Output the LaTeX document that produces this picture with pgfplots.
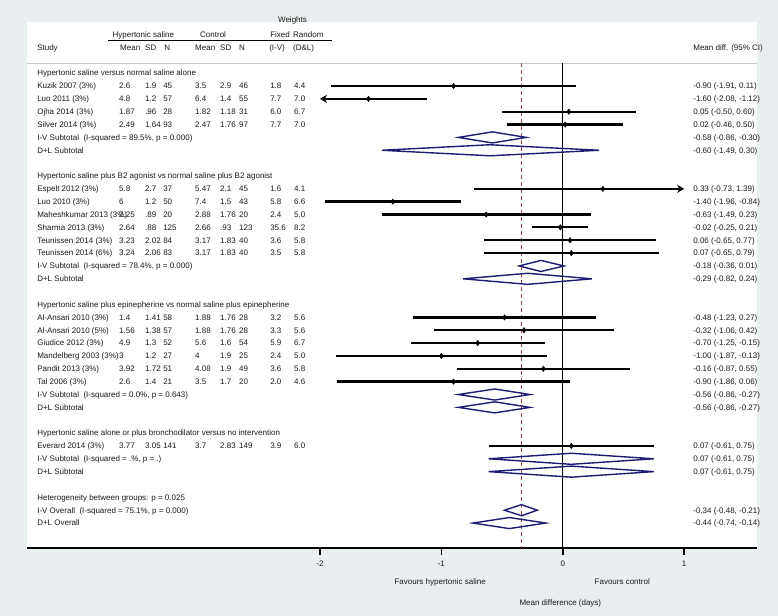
\documentclass[border=0pt]{standalone}
\usepackage{pgfplots}
\pgfplotsset{compat=1.18}
\usepackage{fontspec}
\setmainfont{Liberation Sans}
\usetikzlibrary{arrows.meta}
\definecolor{bgc}{HTML}{E9EFF1}
\definecolor{navyd}{HTML}{1C1C73}
\definecolor{redd}{HTML}{A5434B}
\definecolor{sepc}{HTML}{C8C8C8}
\definecolor{txt}{HTML}{1A1A1A}
\tikzset{tx/.style={anchor=west,inner sep=0pt,text height=5.7bp,text depth=0bp,text=txt}}
% label row: i, study label, CI text
\newcommand{\Lab}[3]{\node[tx] at (axis cs:-4.330,-#1) {#2};\node[tx] at (axis cs:1.074,-#1) {#3};}
% values row: i, 8 values
\newcommand{\Val}[9]{%
\node[tx] at (axis cs:-3.655,-#1) {#2};\node[tx] at (axis cs:-3.441,-#1) {#3};\node[tx] at (axis cs:-3.292,-#1) {#4};%
\node[tx] at (axis cs:-3.029,-#1) {#5};\node[tx] at (axis cs:-2.823,-#1) {#6};\node[tx] at (axis cs:-2.667,-#1) {#7};%
\node[tx] at (axis cs:-2.411,-#1) {#8};\node[tx] at (axis cs:-2.214,-#1) {#9};}
% CI line: i, est, lo, hi, width
\newcommand{\CI}[5]{\addplot[black,line width=#5,mark=none] coordinates {(#3,-#1) (#4,-#1)};
\addplot[black,only marks,mark=diamond*,mark size=2.7bp] coordinates {(#2,-#1)};}
% diamond: i, est, lo, hi
\newcommand{\Dia}[4]{\addplot[navyd,line width=1.4bp,mark=none,line join=miter] coordinates {(#3,-#1) (#2,-#1+0.43) (#4,-#1) (#2,-#1-0.43)} -- cycle;}
\begin{document}
\fontsize{8bp}{9.6bp}\selectfont
\begin{tikzpicture}[x=1bp,y=1bp]
\fill[bgc] (0,0) rectangle (778,616);
\begin{axis}[at={(27bp,68bp)}, anchor=south west, scale only axis,
  width=730bp, height=526bp,
  xmin=-4.413, xmax=1.600, ymin=-36.94, ymax=3.98, clip=false,
  axis background/.style={fill=white},
  axis x line*=bottom, axis y line=none,
  x axis line style={line width=1.5bp,black},
  xtick={-2,-1,0,1}, xticklabels={-2,-1,0,1},
  tick align=outside, major tick length=7bp,
  tick style={line width=1.5bp,black},
  xticklabel style={text=txt,yshift=-3bp},
  ytick=\empty]
% reference lines
\addplot[sepc,line width=1.3bp] coordinates {(-4.413,0.76) (1.600,0.76)};
\addplot[black,line width=1bp] coordinates {(-3.742,2.52) (-1.900,2.52)};
\addplot[black,line width=1.3bp] coordinates {(0,0.76) (0,-36.94)};
\addplot[redd,line width=1.2bp,dash pattern=on 4bp off 3bp] coordinates {(-0.34,0.76) (-0.34,-36.94)};
% headers
\node[anchor=center,inner sep=0pt,text=txt] at (axis cs:-2.226,4.08) {Weights};
\node[tx] at (axis cs:-3.709,3.02) {Hypertonic saline};
\node[tx] at (axis cs:-2.988,3.02) {Control};
\node[tx] at (axis cs:-2.411,3.02) {Fixed};
\node[tx] at (axis cs:-2.222,3.02) {Random};
\node[tx] at (axis cs:-4.330,1.98) {Study};
\node[tx] at (axis cs:-3.647,1.98) {Mean};
\node[tx] at (axis cs:-3.441,1.98) {SD};
\node[tx] at (axis cs:-3.284,1.98) {N};
\node[tx] at (axis cs:-3.029,1.98) {Mean};
\node[tx] at (axis cs:-2.823,1.98) {SD};
\node[tx] at (axis cs:-2.667,1.98) {N};
\node[tx] at (axis cs:-2.419,1.98) {(I-V)};
\node[tx] at (axis cs:-2.222,1.98) {(D\&L)};
\node[tx] at (axis cs:1.074,1.98) {Mean diff. (95\% CI)};
% group 1
\node[tx] at (axis cs:-4.330,0) {Hypertonic saline versus normal saline alone};
\Lab{1}{Kuzik 2007 (3\%)}{-0.90 (-1.91, 0.11)}
\Val{1}{2.6}{1.9}{45}{3.5}{2.9}{46}{1.8}{4.4}
\Lab{2}{Luo 2011 (3\%)}{-1.60 (-2.08, -1.12)}
\Val{2}{4.8}{1.2}{57}{6.4}{1.4}{55}{7.7}{7.0}
\Lab{3}{Ojha 2014 (3\%)}{0.05 (-0.50, 0.60)}
\Val{3}{1.87}{.96}{28}{1.82}{1.18}{31}{6.0}{6.7}
\Lab{4}{Silver 2014 (3\%)}{0.02 (-0.46, 0.50)}
\Val{4}{2.49}{1.64}{93}{2.47}{1.76}{97}{7.7}{7.0}
\Lab{5}{I-V Subtotal\ \ (I-squared = 89.5\%, p = 0.000)}{-0.58 (-0.86, -0.30)}
\Lab{6}{D+L Subtotal}{-0.60 (-1.49, 0.30)}
\CI{1}{-0.90}{-1.91}{0.11}{2.4bp}
\addplot[black,line width=2.4bp,mark=none,-{Stealth[length=7bp,width=8bp]}] coordinates {(-1.12,-2) (-2.0,-2)};
\addplot[black,only marks,mark=diamond*,mark size=2.7bp] coordinates {(-1.60,-2)};
\CI{3}{0.05}{-0.50}{0.60}{2.4bp}
\CI{4}{0.02}{-0.46}{0.50}{2.4bp}
\Dia{5}{-0.58}{-0.86}{-0.30}
\Dia{6}{-0.60}{-1.49}{0.30}
% group 2
\node[tx] at (axis cs:-4.330,-8) {Hypertonic saline plus B2 agonist vs normal saline plus B2 agonist};
\Lab{9}{Espelt 2012 (3\%)}{0.33 (-0.73, 1.39)}
\Val{9}{5.8}{2.7}{37}{5.47}{2.1}{45}{1.6}{4.1}
\Lab{10}{Luo 2010 (3\%)}{-1.40 (-1.96, -0.84)}
\Val{10}{6}{1.2}{50}{7.4}{1.5}{43}{5.8}{6.6}
\Lab{11}{Maheshkumar 2013 (3\%)}{-0.63 (-1.49, 0.23)}
\Val{11}{2.25}{.89}{20}{2.88}{1.76}{20}{2.4}{5.0}
\Lab{12}{Sharma 2013 (3\%)}{-0.02 (-0.25, 0.21)}
\Val{12}{2.64}{.88}{125}{2.66}{.93}{123}{35.6}{8.2}
\Lab{13}{Teunissen 2014 (3\%)}{0.06 (-0.65, 0.77)}
\Val{13}{3.23}{2.02}{84}{3.17}{1.83}{40}{3.6}{5.8}
\Lab{14}{Teunissen 2014 (6\%)}{0.07 (-0.65, 0.79)}
\Val{14}{3.24}{2.06}{83}{3.17}{1.83}{40}{3.5}{5.8}
\Lab{15}{I-V Subtotal\ \ (I-squared = 78.4\%, p = 0.000)}{-0.18 (-0.36, 0.01)}
\Lab{16}{D+L Subtotal}{-0.29 (-0.82, 0.24)}
\addplot[black,line width=2.4bp,mark=none,-{Stealth[length=7bp,width=8bp]}] coordinates {(-0.73,-9) (1.0,-9)};
\addplot[black,only marks,mark=diamond*,mark size=2.7bp] coordinates {(0.33,-9)};
\CI{10}{-1.40}{-1.96}{-0.84}{2.4bp}
\CI{11}{-0.63}{-1.49}{0.23}{2.1bp}
\CI{12}{-0.02}{-0.25}{0.21}{2bp}
\CI{13}{0.06}{-0.65}{0.77}{1.6bp}
\CI{14}{0.07}{-0.65}{0.79}{1.6bp}
\Dia{15}{-0.18}{-0.36}{0.01}
\Dia{16}{-0.29}{-0.82}{0.24}
% group 3
\node[tx] at (axis cs:-4.330,-18) {Hypertonic saline plus epinepherine vs normal saline plus epinepherine};
\Lab{19}{Al-Ansari 2010 (3\%)}{-0.48 (-1.23, 0.27)}
\Val{19}{1.4}{1.41}{58}{1.88}{1.76}{28}{3.2}{5.6}
\Lab{20}{Al-Ansari 2010 (5\%)}{-0.32 (-1.06, 0.42)}
\Val{20}{1.56}{1.38}{57}{1.88}{1.76}{28}{3.3}{5.6}
\Lab{21}{Giudice 2012 (3\%)}{-0.70 (-1.25, -0.15)}
\Val{21}{4.9}{1.3}{52}{5.6}{1.6}{54}{5.9}{6.7}
\Lab{22}{Mandelberg 2003 (3\%)}{-1.00 (-1.87, -0.13)}
\Val{22}{3}{1.2}{27}{4}{1.9}{25}{2.4}{5.0}
\Lab{23}{Pandit 2013 (3\%)}{-0.16 (-0.87, 0.55)}
\Val{23}{3.92}{1.72}{51}{4.08}{1.9}{49}{3.6}{5.8}
\Lab{24}{Tal 2006 (3\%)}{-0.90 (-1.86, 0.06)}
\Val{24}{2.6}{1.4}{21}{3.5}{1.7}{20}{2.0}{4.6}
\Lab{25}{I-V Subtotal\ \ (I-squared = 0.0\%, p = 0.643)}{-0.56 (-0.86, -0.27)}
\Lab{26}{D+L Subtotal}{-0.56 (-0.86, -0.27)}
\CI{19}{-0.48}{-1.23}{0.27}{2.4bp}
\CI{20}{-0.32}{-1.06}{0.42}{2.4bp}
\CI{21}{-0.70}{-1.25}{-0.15}{2.4bp}
\CI{22}{-1.00}{-1.87}{-0.13}{2.4bp}
\CI{23}{-0.16}{-0.87}{0.55}{2.4bp}
\CI{24}{-0.90}{-1.86}{0.06}{2.4bp}
\Dia{25}{-0.56}{-0.86}{-0.27}
\Dia{26}{-0.56}{-0.86}{-0.27}
% group 4
\node[tx] at (axis cs:-4.330,-28) {Hypertonic saline alone or plus bronchodilator versus no intervention};
\Lab{29}{Everard 2014 (3\%)}{0.07 (-0.61, 0.75)}
\Val{29}{3.77}{3.05}{141}{3.7}{2.83}{149}{3.9}{6.0}
\Lab{30}{I-V Subtotal\ \ (I-squared = .\%, p = .)}{0.07 (-0.61, 0.75)}
\Lab{31}{D+L Subtotal}{0.07 (-0.61, 0.75)}
\CI{29}{0.07}{-0.61}{0.75}{2.4bp}
\Dia{30}{0.07}{-0.61}{0.75}
\Dia{31}{0.07}{-0.61}{0.75}
% overall
\node[tx] at (axis cs:-4.330,-33) {Heterogeneity between groups: p = 0.025};
\Lab{34}{I-V Overall\ \ (I-squared = 75.1\%, p = 0.000)}{-0.34 (-0.48, -0.21)}
\Lab{35}{D+L Overall}{-0.44 (-0.74, -0.14)}
\Dia{34}{-0.34}{-0.48}{-0.21}
\Dia{35}{-0.44}{-0.74}{-0.14}
% bottom labels
\node[anchor=center,inner sep=0pt,text=txt] at (axis cs:-1.01,-39.59) {Favours hypertonic saline};
\node[anchor=center,inner sep=0pt,text=txt] at (axis cs:0.49,-39.59) {Favours control};
\node[anchor=center,inner sep=0pt,text=txt] at (axis cs:-0.02,-41.23) {Mean difference (days)};
\end{axis}
\end{tikzpicture}
\end{document}
